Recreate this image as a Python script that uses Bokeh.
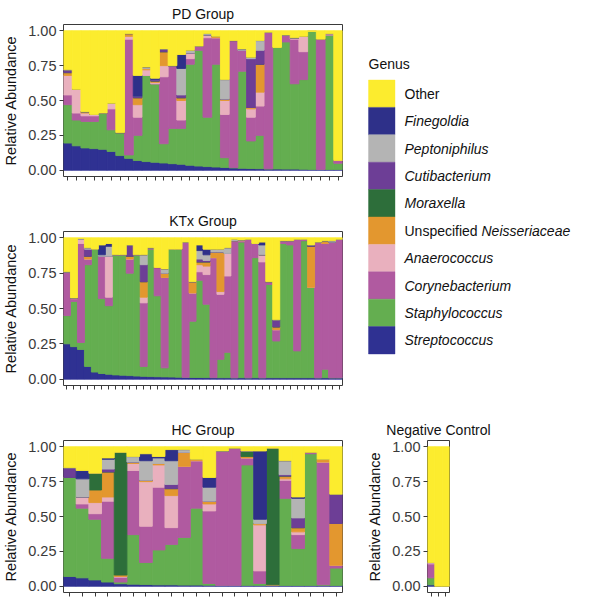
from bokeh.plotting import figure
from bokeh.layouts import row, column
from bokeh.models import FixedTicker, NumeralTickFormatter, Range1d, ColumnDataSource
from bokeh.embed import file_html
from bokeh.resources import INLINE
from bokeh.core.properties import value

FONT = "Liberation Sans"

# stacking order, bottom to top
genera = ["Streptococcus", "Staphylococcus", "Corynebacterium", "Anaerococcus",
          "Unspecified Neisseriaceae", "Moraxella", "Cutibacterium", "Peptoniphilus",
          "Finegoldia", "Other"]
colors = ["#2f3192", "#64ae50", "#b05aa0", "#e9b0be", "#e3972f",
          "#2d6e3a", "#6d3e96", "#b4b4b4", "#2e3089", "#fcec2e"]

# ---------------- PD group (32 samples) ----------------
pd_strep = [.195, .175, .16, .155, .15, .135, .105, .085, .07, .062, .057, .052, .047, .043, .036, .03,
            .026, .023, .02, .016, .014, .012, .011, .01, .009, .008, .008, .007, .006, .006, .005, .005]
pd_staph = [.275, .185, .19, .195, .26, .155, .165, .025, .18, .618, .563, .138, .253, .257, .724, .83,
            .354, .737, .07, .004, .696, .198, .239, 0, .871, .912, .612, .643, .989, 0, .965, .045]
pd_cory = [.07, .05, .04, .04, 0, .15, 0, .83, .13, 0, 0, .48, .45, .06, .04, .03,
           .57, .19, .31, .91, .15, .17, .21, .98, 0, .05, .32, .20, 0, .934, 0, .02]
pd_anaero = [.14, .17, .02, .01, 0, .04, 0, .02, .09, .04, .01, .08, 0, .14, .04, 0,
             .02, 0, .10, 0, 0, .06, .10, 0, 0, 0, .01, .11, 0, 0, .01, 0]
pd_neiss = [.02, 0, .01, 0, 0, 0, 0, .02, .05, .01, .01, .10, 0, .02, 0, 0,
            0, .01, .01, 0, 0, .01, .20, 0, 0, 0, 0, 0, 0, 0, 0, 0]
pd_morax = [0, 0, 0, 0, 0, 0, 0, 0, 0, 0, 0, 0, 0, 0, 0, 0,
            0, 0, 0, 0, 0, 0, 0, 0, 0, 0, 0, 0, 0, 0, 0, 0]
pd_cuti = [.02, 0, 0, 0, 0, 0, 0, 0, .01, 0, .01, .02, 0, .02, 0, 0,
           0, 0, 0, 0, 0, .35, .10, 0, 0, 0, 0, 0, 0, 0, 0, 0]
pd_pepto = [0, 0, 0, 0, 0, 0, 0, 0, 0, .01, 0, 0, 0, .19, .02, 0,
            .01, 0, .14, 0, .01, .01, .07, 0, 0, 0, 0, 0, 0, 0, 0, 0]
pd_fine = [0, 0, 0, 0, 0, 0, 0, 0, .15, 0, .01, 0, 0, .10, 0, 0,
           0, 0, 0, 0, 0, 0, 0, 0, 0, 0, 0, 0, 0, 0, 0, 0]

# ---------------- KTx group (40 samples) ----------------
kt_strep = [.25, .23, .21, .09, .05, .04, .035, .03, .028, .025,
            .022, .02, .018, .017, .016, .015, .014, .013, .012, .012,
            .011, .011, .01, .01, .01, .01, .01, .01, .01, .01,
            .01, .01, .01, .01, .01, .01, .01, .01, .01, .01]
kt_staph = [.20, .32, .05, .72, .87, .53, .485, .85, .852, .725,
            .858, .07, .902, .573, .064, .905, .906, 0, .398, .688,
            .519, 0, .13, .18, 0, .96, 0, .85, 0, .66,
            .26, .95, .94, .19, .97, .64, 0, .06, 0, 0]
kt_cory = [.31, .02, .70, .04, 0, .30, .06, 0, 0, .10,
           0, .45, .01, .20, .64, 0, 0, .957, .20, .06,
           .21, .849, .46, .54, .97, .01, .98, .10, .82, .02,
           .08, .02, .03, .79, .01, 0, .96, .89, .96, .98]
kt_anaero = [0, 0, .03, 0, 0, 0, .29, 0, 0, 0,
             0, .04, 0, 0, 0, 0, 0, 0, 0, .05,
             .06, 0, .02, .16, 0, 0, 0, 0, .05, 0,
             0, 0, 0, 0, 0, 0, 0, 0, 0, 0]
kt_neiss = [0, .005, 0, .02, 0, 0, 0, 0, 0, .02,
            0, .11, 0, 0, .03, 0, 0, 0, .08, .02,
            .03, .04, .28, 0, 0, .005, 0, 0, 0, 0,
            .02, 0, 0, 0, 0, .29, 0, .02, 0, 0]
kt_morax = [0, 0, 0, 0, 0, 0, 0, 0, 0, 0,
            0, 0, 0, 0, 0, 0, 0, 0, 0, 0,
            0, 0, 0, 0, 0, 0, 0, 0, 0, 0,
            0, 0, 0, 0, 0, 0, 0, 0, 0, 0]
kt_cuti = [0, 0, 0, .05, 0, 0, 0, 0, 0, .08,
           0, .12, 0, 0, 0, 0, 0, 0, 0, .02,
           .01, 0, 0, 0, 0, 0, 0, 0, 0, 0,
           .05, 0, 0, 0, 0, .01, 0, 0, 0, 0]
kt_pepto = [0, 0, .005, .01, 0, .01, .07, 0, 0, 0,
            0, .07, 0, 0, .03, 0, 0, 0, 0, .06,
            .04, .02, .02, .04, .01, 0, 0, 0, .07, 0,
            0, 0, 0, 0, 0, 0, 0, 0, .01, 0]
kt_fine = [0, 0, 0, 0, 0, .07, .02, 0, 0, 0,
           0, 0, 0, 0, 0, 0, 0, 0, 0, .04,
           .04, 0, 0, 0, 0, 0, 0, 0, .02, 0,
           0, 0, 0, 0, 0, 0, 0, 0, 0, 0]

# ---------------- HC group (22 samples) ----------------
hc_strep = [.07, .06, .045, .03, .018, .015, .012, .01, .01, .008, .008,
            .007, .006, .006, .006, .006, .005, .005, .005, .005, .005, .005]
hc_staph = [.71, .50, .435, .17, .012, .355, .158, .25, .29, .342, .552,
            .013, 0, 0, .864, .014, .005, .625, .265, .945, .005, .125]
hc_cory = [0, .03, .04, .41, .035, .46, .26, .45, .12, .51, .34,
           .52, .964, .984, .05, .09, 0, .13, .10, .01, .88, .02]
hc_anaero = [0, .05, .08, .03, .005, .05, .32, .16, .23, 0, 0,
             .05, 0, 0, 0, .33, 0, .01, .02, 0, 0, 0]
hc_neiss = [0, 0, .09, .18, .01, .01, .01, .01, .05, .10, .01,
            .02, 0, 0, .01, .01, 0, .02, .03, 0, .02, .30]
hc_morax = [0, 0, .12, 0, .88, 0, 0, 0, 0, 0, 0,
            0, 0, 0, .04, 0, .98, 0, 0, 0, 0, 0]
hc_cuti = [.07, 0, 0, .02, 0, 0, 0, 0, .03, 0, 0,
           0, 0, 0, 0, 0, 0, .01, .07, 0, 0, .21]
hc_pepto = [0, .13, 0, .07, 0, .04, .14, .04, .17, .02, 0,
            .10, 0, 0, 0, .03, 0, .10, .14, 0, 0, 0]
hc_fine = [0, .06, 0, .01, 0, 0, .05, .01, .08, 0, 0,
           .07, 0, 0, 0, .49, 0, 0, .01, 0, 0, 0]

# ---------------- Negative control (3 samples) ----------------
nc_strep = [.01, 0, 0]
nc_staph = [.05, 0, 0]
nc_cory = [.10, 0, 0]
nc_anaero = [.01, 0, 0]
nc_neiss = [0, 0, 0]
nc_morax = [0, 0, 0]
nc_cuti = [0, 0, 0]
nc_pepto = [0, 0, 0]
nc_fine = [0, 0, 0]

y_ticks = [0, 0.25, 0.5, 0.75, 1.0]


def panel(title, series, width, height, left, right, top, bottom, title_offset=0):
    n = len(series[0])
    xs = list(range(1, n + 1))
    data = {"x": xs}
    totals = [0.0] * n
    for name, vals in zip(genera[:-1], series):
        data[name] = vals
        totals = [t + v for t, v in zip(totals, vals)]
    data["Other"] = [max(0.0, 1.0 - t) for t in totals]
    p = figure(width=width, height=height, x_range=Range1d(0.5, n + 0.5),
               y_range=Range1d(-0.045, 1.045), output_backend="svg", toolbar_location=None,
               min_border_left=left, min_border_right=right, min_border_top=top,
               min_border_bottom=bottom)
    p.vbar_stack(genera, x="x", width=1.0, source=ColumnDataSource(data),
                 fill_color=colors, line_color=colors, line_width=0.9)
    p.xgrid.visible = False
    p.ygrid.visible = False
    p.outline_line_color = "#3a3a3a"
    p.outline_line_width = 1
    p.background_fill_color = "white"
    p.border_fill_color = "white"

    xa = p.xaxis[0]
    xa.ticker = FixedTicker(ticks=xs)
    xa.major_label_text_font_size = "0px"
    xa.major_label_text_color = None
    xa.major_label_standoff = 0
    xa.axis_line_color = None
    xa.major_tick_line_color = "#3a3a3a"
    xa.major_tick_in = 0
    xa.major_tick_out = 4
    xa.minor_tick_line_color = None

    ya = p.yaxis[0]
    ya.ticker = FixedTicker(ticks=y_ticks)
    ya.formatter = NumeralTickFormatter(format="0.00")
    ya.axis_label = "Relative Abundance"
    ya.axis_label_text_font = FONT
    ya.axis_label_text_font_size = "14.5px"
    ya.axis_label_text_font_style = "normal"
    ya.axis_label_text_color = "#111111"
    ya.axis_label_standoff = 6
    ya.major_label_text_font = FONT
    ya.major_label_text_font_size = "14.5px"
    ya.major_label_text_color = "#3a3a3a"
    ya.major_label_standoff = 3
    ya.axis_line_color = None
    ya.major_tick_line_color = "#3a3a3a"
    ya.major_tick_in = 0
    ya.major_tick_out = 4
    ya.minor_tick_line_color = None

    p.title.text = title
    p.title.align = "center"
    p.title.text_font = FONT
    p.title.text_font_size = "14px"
    p.title.text_font_style = "normal"
    p.title.text_color = "#111111"
    p.title.standoff = 6
    p.title.offset = title_offset
    return p


pd_series = [pd_strep, pd_staph, pd_cory, pd_anaero, pd_neiss, pd_morax, pd_cuti, pd_pepto, pd_fine]
kt_series = [kt_strep, kt_staph, kt_cory, kt_anaero, kt_neiss, kt_morax, kt_cuti, kt_pepto, kt_fine]
hc_series = [hc_strep, hc_staph, hc_cory, hc_anaero, hc_neiss, hc_morax, hc_cuti, hc_pepto, hc_fine]
nc_series = [nc_strep, nc_staph, nc_cory, nc_anaero, nc_neiss, nc_morax, nc_cuti, nc_pepto, nc_fine]

p1 = panel("PD Group", pd_series, 360, 200, 58, 18, 22, 24)
p2 = panel("KTx Group", kt_series, 360, 210, 58, 18, 31, 25)
p3 = panel("HC Group", hc_series, 360, 187, 58, 18, 30, 5)
p4 = panel("Negative Control", nc_series, 215, 187, 67, 126, 30, 5, title_offset=-12)

# ---------------- Legend (drawn as its own panel) ----------------
LW, LH = 215, 410
leg = figure(width=LW, height=LH, x_range=Range1d(0, LW), y_range=Range1d(LH, 0),
             output_backend="svg", toolbar_location=None, x_axis_location=None,
             y_axis_location=None, min_border=0)
leg.xgrid.visible = False
leg.ygrid.visible = False
leg.outline_line_color = None

sw_x, sw_w, sw_y0, sw_h, lab_x = 8, 26.5, 79.5, 27.4, 44
order = list(range(len(genera)))[::-1]
lefts, rights, tops, bottoms, fills = [], [], [], [], []
for i, gi in enumerate(order):
    lefts.append(sw_x)
    rights.append(sw_x + sw_w)
    tops.append(sw_y0 + i * sw_h)
    bottoms.append(sw_y0 + (i + 1) * sw_h)
    fills.append(colors[gi])
leg.quad(left=lefts, right=rights, top=tops, bottom=bottoms, fill_color=fills, line_color=fills,
         line_width=0.4)

leg.text(x=[sw_x], y=[63.5], text=["Genus"], text_font=value(FONT), text_font_size="14px",
         text_baseline="middle", text_align="left", text_color="#111111")

it_x, it_y, it_t = [], [], []
nm_x, nm_y, nm_t = [], [], []
for i, gi in enumerate(order):
    name = genera[gi]
    yc = sw_y0 + (i + 0.5) * sw_h
    if name == "Other":
        nm_x.append(lab_x); nm_y.append(yc); nm_t.append(name)
    elif name.startswith("Unspecified "):
        nm_x.append(lab_x); nm_y.append(yc); nm_t.append("Unspecified")
        it_x.append(lab_x + 77.0); it_y.append(yc); it_t.append(name.split(" ", 1)[1])
    else:
        it_x.append(lab_x); it_y.append(yc); it_t.append(name)
leg.text(x=nm_x, y=nm_y, text=nm_t, text_font=value(FONT), text_font_size="14px",
         text_baseline="middle", text_align="left", text_color="#111111")
leg.text(x=it_x, y=it_y, text=it_t, text_font=value(FONT), text_font_size="14px",
         text_font_style="italic", text_baseline="middle", text_align="left", text_color="#111111")

layout = column(row(column(p1, p2), leg), row(p3, p4))

open("out.html", "w").write(file_html(layout, INLINE))
